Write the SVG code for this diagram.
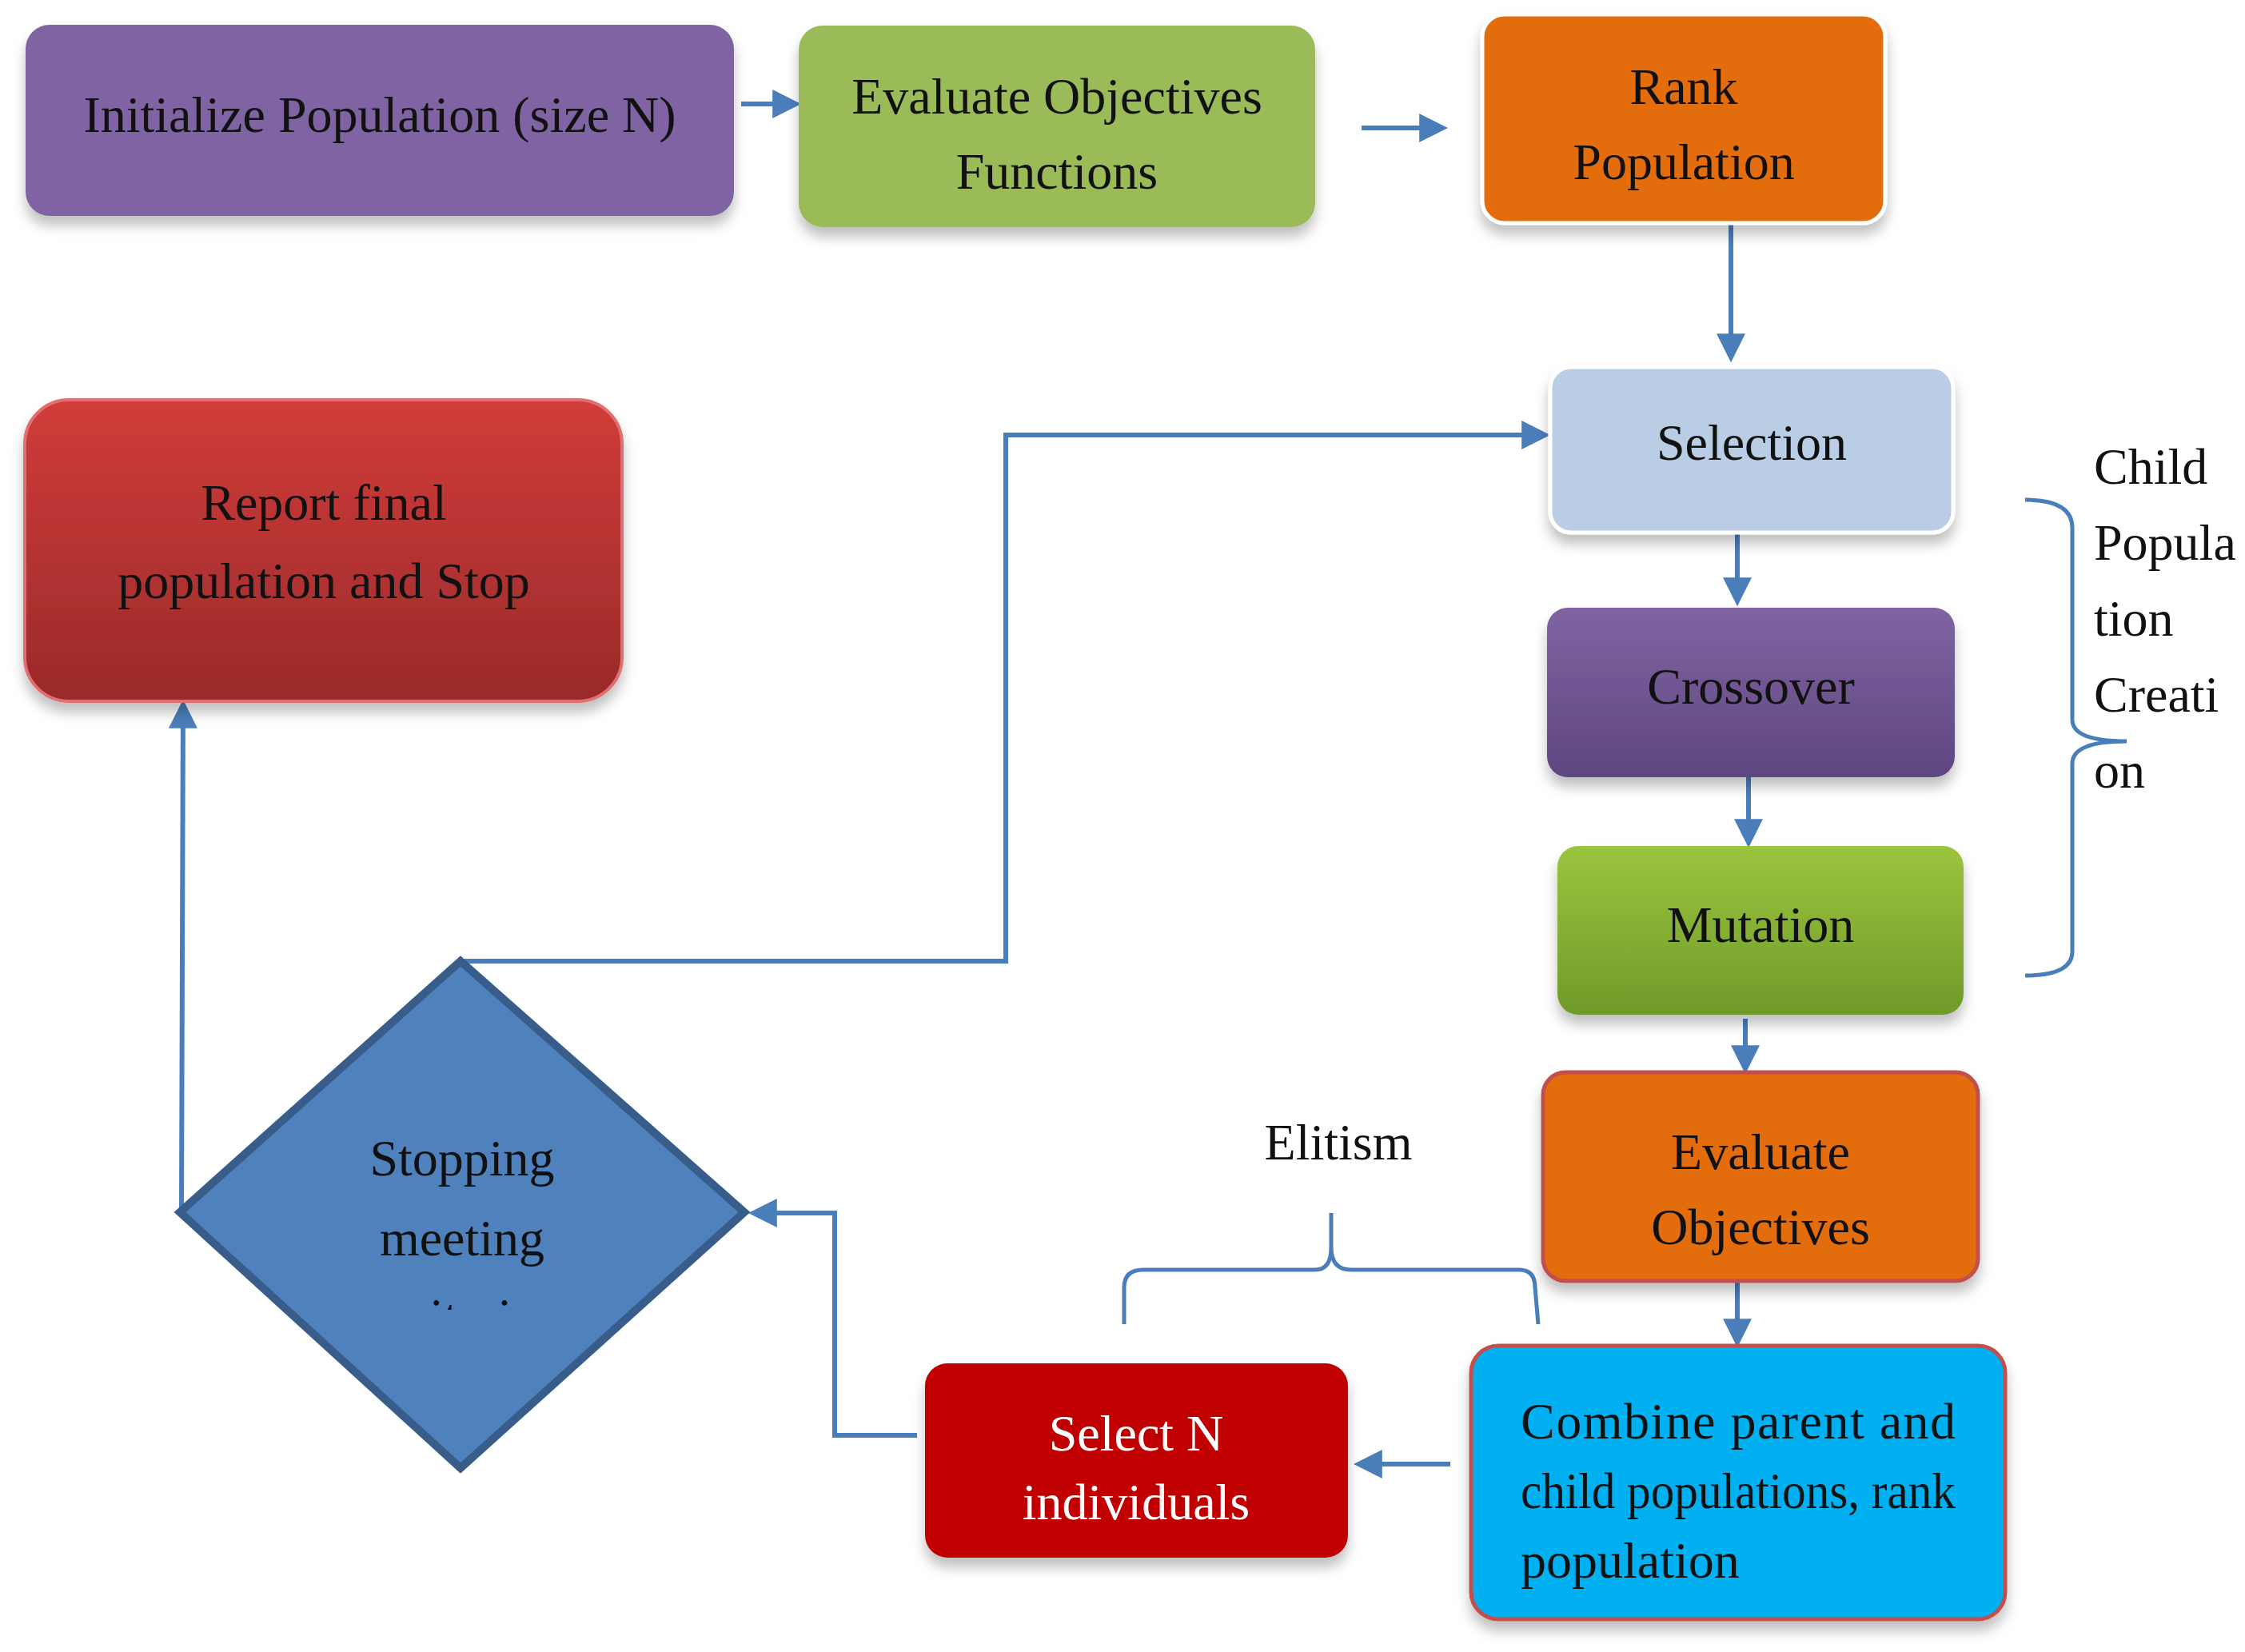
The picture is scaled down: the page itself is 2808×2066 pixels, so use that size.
<svg xmlns="http://www.w3.org/2000/svg" width="2808" height="2066" viewBox="0 0 2808 2066">
<style>
text{font-family:"Liberation Serif","Times New Roman",serif;font-size:64px;fill:#111;text-anchor:middle}
.c{stroke:#4a7ebb;stroke-width:6;fill:none}
.b{stroke:#4a7ebb;stroke-width:5;fill:none}
.sh{filter:url(#sh)}
</style>
<defs>
<marker id="a" viewBox="0 0 10 10" refX="8" refY="5" markerWidth="6" markerHeight="6" markerUnits="strokeWidth" orient="auto"><path d="M0,0L10,5L0,10z" fill="#4a7ebb"/></marker>
<filter id="sh" x="-10%" y="-10%" width="120%" height="130%"><feDropShadow dx="0" dy="12" stdDeviation="8" flood-color="#000" flood-opacity="0.25"/></filter>
<linearGradient id="gp" x1="0" y1="0" x2="0" y2="1"><stop offset="0" stop-color="#8064a2"/><stop offset="1" stop-color="#5e4680"/></linearGradient>
<linearGradient id="gg" x1="0" y1="0" x2="0" y2="1"><stop offset="0" stop-color="#9bc53d"/><stop offset="1" stop-color="#6f9a2a"/></linearGradient>
<linearGradient id="gr" x1="0" y1="0" x2="0" y2="1"><stop offset="0" stop-color="#d13c3a"/><stop offset="1" stop-color="#9a2a2a"/></linearGradient>
<clipPath id="dc"><rect x="300" y="1600" width="560" height="38"/></clipPath>
</defs>
<g id="connectors">
<line class="c" x1="927" y1="130" x2="995" y2="130" marker-end="url(#a)"/>
<line class="c" x1="1703" y1="160" x2="1804" y2="160" marker-end="url(#a)"/>
<line class="c" x1="2165" y1="261" x2="2165" y2="446" marker-end="url(#a)"/>
<line class="c" x1="2173" y1="666" x2="2173" y2="751" marker-end="url(#a)"/>
<line class="c" x1="2187" y1="972" x2="2187" y2="1053" marker-end="url(#a)"/>
<line class="c" x1="2183" y1="1274" x2="2183" y2="1336" marker-end="url(#a)"/>
<line class="c" x1="2173" y1="1602" x2="2173" y2="1678" marker-end="url(#a)"/>
<line class="c" x1="1814" y1="1831" x2="1700" y2="1831" marker-end="url(#a)"/>
<polyline class="c" points="1147,1795 1044,1795 1044,1517 943,1517" marker-end="url(#a)"/>
<polyline class="c" points="576,1202 1258,1202 1258,544 1932,544" marker-end="url(#a)"/>
<line class="c" x1="227" y1="1512" x2="229" y2="882" marker-end="url(#a)"/>
<path class="b" d="M1406,1656 L1406,1610 Q1406,1588 1430,1588 L1645,1588 Q1665,1588 1665,1560 L1665,1517 M1665,1560 Q1665,1588 1690,1588 L1900,1588 Q1920,1588 1920,1610 L1924,1656"/>
<path class="b" d="M2533,625 Q2592,625 2592,660 L2592,900 Q2592,927 2660,927 M2660,927 Q2592,927 2592,955 L2592,1190 Q2592,1220 2533,1220"/>
</g>
<g id="init"><rect class="sh" x="32" y="31" width="886" height="239" rx="30" fill="#8064a2"/><text x="475" y="165">Initialize Population (size N)</text></g>
<g id="evalfun"><rect class="sh" x="999" y="32" width="646" height="252" rx="30" fill="#9bbb59"/><text x="1322" y="142">Evaluate Objectives</text><text x="1322" y="236">Functions</text></g>
<g id="rank"><rect class="sh" x="1854" y="18" width="504" height="261" rx="28" fill="#e36c09" stroke="#fff" stroke-width="5"/><text x="2106" y="130">Rank</text><text x="2106" y="224">Population</text></g>
<g id="selection"><rect class="sh" x="1939" y="459" width="504" height="207" rx="26" fill="#b9cde5" stroke="#fff" stroke-width="5"/><text x="2191" y="575">Selection</text></g>
<g id="crossover"><rect class="sh" x="1935" y="760" width="510" height="212" rx="26" fill="url(#gp)"/><text x="2190" y="880">Crossover</text></g>
<g id="mutation"><rect class="sh" x="1948" y="1058" width="508" height="211" rx="26" fill="url(#gg)"/><text x="2202" y="1178">Mutation</text></g>
<g id="evalobj"><rect class="sh" x="1930" y="1341" width="544" height="261" rx="28" fill="#e36c09" stroke="#c0504d" stroke-width="5"/><text x="2202" y="1462">Evaluate</text><text x="2202" y="1556">Objectives</text></g>
<g id="combine"><rect class="sh" x="1840" y="1683" width="668" height="342" rx="34" fill="#00b0f0" stroke="#c0504d" stroke-width="5"/>
<text x="1902" y="1799" style="text-anchor:start" textLength="544" lengthAdjust="spacing">Combine  parent  and</text>
<text x="1902" y="1886" style="text-anchor:start" textLength="544" lengthAdjust="spacingAndGlyphs">child populations, rank</text>
<text x="1902" y="1973" style="text-anchor:start">population</text></g>
<g id="selectn"><rect class="sh" x="1157" y="1705" width="529" height="243" rx="28" fill="#c00000"/><text x="1421" y="1814" fill="#fff" style="fill:#fff">Select N</text><text x="1421" y="1900" style="fill:#fff">individuals</text></g>
<g id="report"><rect class="sh" x="31" y="500" width="747" height="377" rx="55" fill="url(#gr)" stroke="#e07070" stroke-width="4"/><text x="405" y="650">Report final</text><text x="405" y="748">population and Stop</text></g>
<g id="stopping"><polygon points="576,1202 931,1516 576,1836 225,1516" fill="#4f81bd" stroke="#385d8a" stroke-width="10"/><text x="578" y="1470">Stopping</text><text x="578" y="1570">meeting</text><text x="578" y="1668" clip-path="url(#dc)">criteria</text></g>
<g id="labels"><text x="1674" y="1450">Elitism</text>
<g style="text-anchor:start"><text x="2619" y="605" style="text-anchor:start">Child</text><text x="2619" y="700" style="text-anchor:start">Popula</text><text x="2619" y="795" style="text-anchor:start">tion</text><text x="2619" y="890" style="text-anchor:start">Creati</text><text x="2619" y="985" style="text-anchor:start">on</text></g></g>
</svg>
